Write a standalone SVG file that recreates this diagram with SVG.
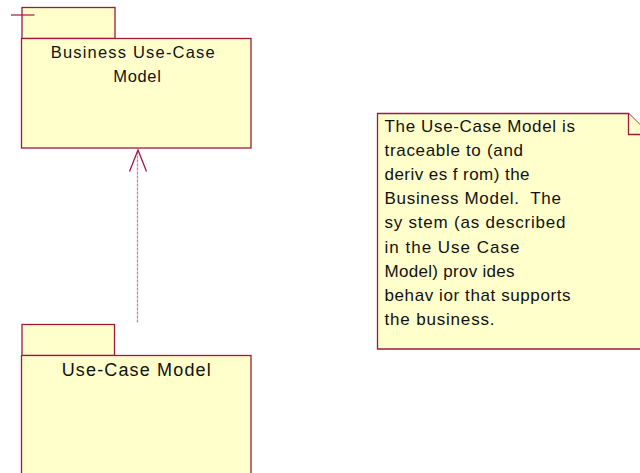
<svg xmlns="http://www.w3.org/2000/svg" width="640" height="473" viewBox="0 0 640 473">
<style>
.shape{fill:#ffffcc;stroke:#a01840;stroke-width:1.3}
.txt{font-family:"Liberation Sans",Arial,sans-serif;fill:#111;white-space:pre}
.big{font-size:16.5px}
.big2{font-size:18px}
.note{font-size:17px}
.dep{stroke:#d47ea0;stroke-width:1.3;fill:none;stroke-dasharray:3 1}
.head{stroke:#a01840;stroke-width:1.3;fill:none}
</style>
<rect width="640" height="473" fill="#ffffff"/>
<g id="business-use-case-model">
  <rect class="shape" x="22" y="7.5" width="93" height="31"/>
  <rect class="shape" x="21.5" y="38.5" width="229.5" height="109.5"/>
  <line x1="11" y1="15" x2="34.5" y2="15" stroke="#a01840" stroke-width="1.2"/>
  <text class="txt big" x="50.7" y="57.5" textLength="164" lengthAdjust="spacing">Business Use-Case</text>
  <text class="txt big" x="113.3" y="81.5" textLength="47.5" lengthAdjust="spacing">Model</text>
</g>
<g id="use-case-model">
  <rect class="shape" x="22" y="324.5" width="92.5" height="31"/>
  <rect class="shape" x="21.5" y="355.5" width="229.5" height="130"/>
  <text class="txt big2" x="61.7" y="375.5" textLength="149" lengthAdjust="spacing">Use-Case Model</text>
</g>
<g id="note">
  <path class="shape" d="M377.5,113.5 H628.5 L650,135 V349 H377.5 Z"/>
  <path class="shape" d="M628.5,113.5 V134.5 H650"/>
  <text class="txt note" x="384.5" y="131.5" textLength="190.5" lengthAdjust="spacing">The Use-Case Model is</text>
  <text class="txt note" x="384.5" y="155.7" textLength="138.5" lengthAdjust="spacing">traceable to (and</text>
  <text class="txt note" x="384.5" y="179.9" textLength="145" lengthAdjust="spacing">deriv es f rom) the</text>
  <text class="txt note" x="384.5" y="204.1" textLength="176.5" lengthAdjust="spacing" xml:space="preserve">Business Model.  The</text>
  <text class="txt note" x="384.5" y="228.3" textLength="181" lengthAdjust="spacing">sy stem (as described</text>
  <text class="txt note" x="384.5" y="252.5" textLength="135" lengthAdjust="spacing">in the Use Case</text>
  <text class="txt note" x="384.5" y="276.7" textLength="130" lengthAdjust="spacing">Model) prov ides</text>
  <text class="txt note" x="384.5" y="300.9" textLength="186" lengthAdjust="spacing">behav ior that supports</text>
  <text class="txt note" x="384.5" y="325.1" textLength="110" lengthAdjust="spacing">the business.</text>
</g>
<g id="connectors">
  <line class="dep" x1="137.5" y1="322.5" x2="137.5" y2="151"/>
  <polyline class="head" points="129.5,171.5 138,150 146.5,171.5"/>
</g>
</svg>
